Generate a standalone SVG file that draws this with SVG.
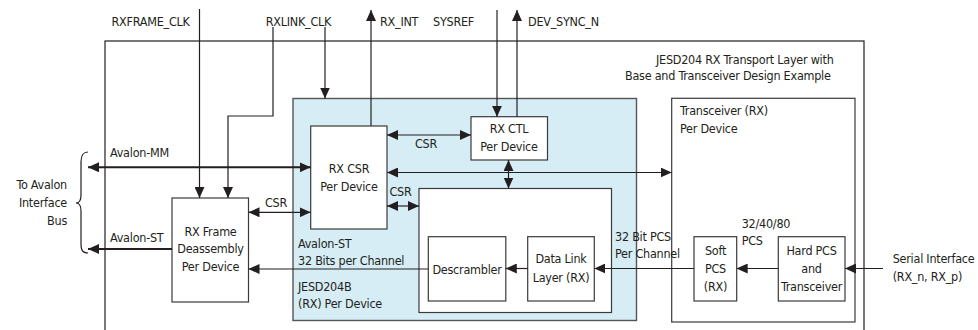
<svg xmlns="http://www.w3.org/2000/svg" width="978" height="330" viewBox="0 0 978 330">
<defs>
<style>
text{font-family:"DejaVu Sans Condensed","Liberation Sans",sans-serif;font-size:12.5px;letter-spacing:-0.25px;fill:#231f20}
.c{text-anchor:middle}
.r{text-anchor:end}
.box{fill:#fff;stroke:#3a3a3a;stroke-width:1.2}
.blue{fill:#d6edf5;stroke:#555;stroke-width:1.4}
.ln{fill:none;stroke:#231f20;stroke-width:1.2}
.ln2{fill:none;stroke:#231f20;stroke-width:2}
.ah{marker-end:url(#ah)}
.dh{marker-start:url(#ah);marker-end:url(#ah)}
</style>
<marker id="ah" viewBox="0 0 11 10" refX="11" refY="5" markerWidth="11" markerHeight="10" markerUnits="userSpaceOnUse" orient="auto-start-reverse">
<path d="M0,0 L11,5 L0,10 z" fill="#231f20"/>
</marker>
</defs>

<g id="outer">
<rect x="105" y="41" width="759" height="300" fill="none" stroke="#231f20" stroke-width="1.2"/>
<text x="656" y="64">JESD204 RX Transport Layer with</text>
<text x="625" y="80">Base and Transceiver Design Example</text>
</g>

<g id="jesd204b">
<rect class="blue" x="293" y="98.5" width="343.5" height="222"/>
<text x="298" y="248">Avalon-ST</text>
<text x="298" y="265">32 Bits per Channel</text>
<text x="298" y="290.5">JESD204B</text>
<text x="298" y="308">(RX) Per Device</text>
</g>

<g id="inner">
<rect class="box" x="419" y="188.5" width="192.5" height="124"/>
</g>

<g id="rx-csr">
<rect class="box" x="310.7" y="126" width="76.3" height="103"/>
<text class="c" x="349" y="173">RX CSR</text>
<text class="c" x="349" y="191">Per Device</text>
</g>

<g id="rx-ctl">
<rect class="box" x="471" y="116.7" width="76.5" height="43.3"/>
<text class="c" x="509" y="133">RX CTL</text>
<text class="c" x="509" y="150.5">Per Device</text>
</g>

<g id="rx-frame">
<rect class="box" x="172" y="198" width="76.5" height="104"/>
<text class="c" x="210.5" y="235.5">RX Frame</text>
<text class="c" x="210.5" y="253">Deassembly</text>
<text class="c" x="210.5" y="270.5">Per Device</text>
</g>

<g id="descrambler">
<rect class="box" x="428.3" y="236.7" width="77.5" height="64.3"/>
<text class="c" x="467" y="274">Descrambler</text>
</g>

<g id="data-link">
<rect class="box" x="527.7" y="236.7" width="66.6" height="64.3"/>
<text class="c" x="561" y="263">Data Link</text>
<text class="c" x="561" y="281.5">Layer (RX)</text>
</g>

<g id="transceiver">
<rect class="box" x="671.7" y="98.3" width="183.3" height="223.7"/>
<text x="680" y="115">Transceiver (RX)</text>
<text x="680" y="133">Per Device</text>
</g>

<g id="soft-pcs">
<rect class="box" x="694" y="236.7" width="42.7" height="64.3"/>
<text class="c" x="715.5" y="254.5">Soft</text>
<text class="c" x="715.5" y="272.5">PCS</text>
<text class="c" x="715.5" y="290.5">(RX)</text>
</g>

<g id="hard-pcs">
<rect class="box" x="778.3" y="236.7" width="66.7" height="64.3"/>
<text class="c" x="811.5" y="254.5">Hard PCS</text>
<text class="c" x="811.5" y="272.5">and</text>
<text class="c" x="811.5" y="290.5">Transceiver</text>
</g>

<g id="labels">
<text x="111.5" y="25.5">RXFRAME_CLK</text>
<text x="265.7" y="25.5">RXLINK_CLK</text>
<text x="380" y="25.5">RX_INT</text>
<text x="433" y="25.5">SYSREF</text>
<text x="528" y="25.5">DEV_SYNC_N</text>
<text class="r" x="67" y="189">To Avalon</text>
<text class="r" x="67" y="207">Interface</text>
<text class="r" x="67" y="225">Bus</text>
<text x="110" y="157">Avalon-MM</text>
<text x="110" y="241.7">Avalon-ST</text>
<text x="265" y="207">CSR</text>
<text x="415" y="148">CSR</text>
<text x="389.5" y="196">CSR</text>
<text x="615" y="240.5">32 Bit PCS</text>
<text x="615" y="258">Per Channel</text>
<text x="741.7" y="228">32/40/80</text>
<text x="741.7" y="245">PCS</text>
<text x="892.7" y="263">Serial Interface</text>
<text x="892.7" y="281">(RX_n, RX_p)</text>
</g>

<g id="connectors">
<path class="ln ah" d="M199.5,9 V198"/>
<path class="ln ah" d="M273,27 V116 H228 V198"/>
<path class="ln ah" d="M325,27 V98.5"/>
<path class="ln ah" d="M371,126 V10"/>
<path class="ln ah" d="M497,10 V116.7"/>
<path class="ln ah" d="M517,116.7 V10"/>
<path class="ln2 dh" d="M88,167.3 H310.7"/>
<path class="ln dh" d="M248.5,212.3 H310.7"/>
<path class="ln2 ah" d="M172,249 H88"/>
<path class="ln ah" d="M428.3,269 H248.5"/>
<path class="ln dh" d="M387,135 H471"/>
<path class="ln dh" d="M387,172.5 H671.7"/>
<path class="ln dh" d="M508.5,160 V188.5"/>
<path class="ln dh" d="M387,206 H419"/>
<path class="ln ah" d="M527.7,268.5 H505.8"/>
<path class="ln ah" d="M694,268.5 H594.3"/>
<path class="ln ah" d="M778.3,268.5 H736.7"/>
<path class="ln ah" d="M883,268.5 H845"/>
<path class="ln" d="M88,152 C82.5,152 81,155.5 81,162 L81,195 C81,200 79.5,203 76,203 C79.5,203 81,206 81,211 L81,244 C81,250.5 82.5,253 88,253"/>
</g>
</svg>
